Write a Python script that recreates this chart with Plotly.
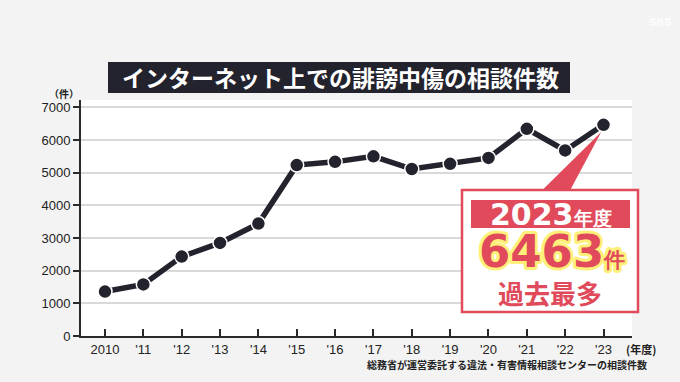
import plotly.graph_objects as go

years = list(range(2010, 2024))
values = [1360, 1580, 2430, 2850, 3440, 5230, 5330, 5500, 5110, 5270, 5450, 6340, 5680, 6463]
x_tick_labels = ["2010", "'11", "'12", "'13", "'14", "'15", "'16", "'17", "'18", "'19", "'20", "'21", "'22", "'23"]
y_ticks = [0, 1000, 2000, 3000, 4000, 5000, 6000, 7000]

title_text = "インターネット上での誹謗中傷の相談件数"
source_text = "総務省が運営委託する違法・有害情報相談センターの相談件数"
callout_year = "2023"
callout_value = "6463"

W, H = 680, 382
L, R, T, B = 81, 48, 100, 46
PW, PH = W - L - R, H - T - B

def px(x):
    return (x - L) / PW

def py(y):
    return (H - B - y) / PH

DARK = "#23232e"
RED = "#e04a5a"
BG = "#f3f3f3"
GLOW = "#fff07a"

fig = go.Figure()
fig.add_trace(go.Scatter(
    x=years, y=values, mode="lines+markers",
    line=dict(color=DARK, width=5.5),
    marker=dict(size=14, color=DARK, line=dict(color="white", width=1.5)),
    hoverinfo="skip", showlegend=False,
))

shapes = []
annotations = []

# title box
shapes.append(dict(type="rect", xref="paper", yref="paper",
                   x0=px(108), x1=px(570), y0=py(93), y1=py(62),
                   fillcolor=DARK, line=dict(width=0), layer="above"))
annotations.append(dict(xref="paper", yref="paper", x=px(340), y=py(77.5),
                        text=title_text, showarrow=False,
                        font=dict(family="Noto Sans CJK JP", size=23, color="white", weight="bold"),
                        xanchor="center", yanchor="middle"))

# unit label
annotations.append(dict(xref="paper", yref="paper", x=px(64), y=py(93),
                        text="（件）", showarrow=False,
                        font=dict(family="Noto Sans CJK JP", size=10, color="#222", weight="bold"),
                        xanchor="center", yanchor="middle"))
# fiscal year label
annotations.append(dict(xref="paper", yref="paper", x=px(641), y=py(349),
                        text="(年度)", showarrow=False,
                        font=dict(family="Noto Sans CJK JP", size=11, color="#222", weight="bold"),
                        xanchor="center", yanchor="middle"))
# source
annotations.append(dict(xref="paper", yref="paper", x=px(649), y=py(364),
                        text=source_text, showarrow=False,
                        font=dict(family="Noto Sans CJK JP", size=10, color="#222", weight="bold"),
                        xanchor="right", yanchor="middle"))

# logo
annotations.append(dict(xref="paper", yref="paper", x=px(660), y=py(22),
                        text="SBS", showarrow=False,
                        font=dict(family="Liberation Sans", size=11, color="white", weight="bold"),
                        xanchor="center", yanchor="middle", opacity=0.9))

# callout pointer (data coordinates toward the last point)
last_x, last_y = years[-1], values[-1]
shapes.append(dict(type="path", xref="x", yref="y",
                   path=f"M {last_x - 1.58},4480 L {last_x - 0.86},4480 L {last_x - 0.06},{last_y - 220} Z",
                   fillcolor=RED, line=dict(width=0), layer="above"))
# callout box
shapes.append(dict(type="rect", xref="paper", yref="paper",
                   x0=px(462), x1=px(638), y0=py(312), y1=py(190),
                   fillcolor="white", line=dict(color=RED, width=2.5), layer="above"))
shapes.append(dict(type="rect", xref="paper", yref="paper",
                   x0=px(471), x1=px(630), y0=py(228), y1=py(200),
                   fillcolor=RED, line=dict(width=0), layer="above"))
annotations.append(dict(xref="paper", yref="paper", x=px(551), y=py(214),
                        text=f"{callout_year}<span style='font-size:19px'>年度</span>", showarrow=False,
                        font=dict(family="DejaVu Sans", size=30, color="white", weight="bold"),
                        xanchor="center", yanchor="middle"))

val_text = f"{callout_value}<span style='font-size:21px'>件</span>"
annotations.append(dict(xref="paper", yref="paper", x=px(552), y=py(251),
                        text=val_text, showarrow=False,
                        font=dict(family="DejaVu Sans", size=45, color=RED, weight="bold"),
                        xanchor="center", yanchor="middle"))
annotations.append(dict(xref="paper", yref="paper", x=px(550), y=py(292),
                        text="過去最多", showarrow=False,
                        font=dict(family="Noto Sans CJK JP", size=26, color=RED, weight="bold"),
                        xanchor="center", yanchor="middle"))

fig.update_layout(
    width=W, height=H,
    margin=dict(l=L, r=R, t=T, b=B),
    paper_bgcolor=BG, plot_bgcolor="white",
    shapes=shapes, annotations=annotations,
    xaxis=dict(range=[2009.374, 2023.743], tickmode="array", tickvals=years, ticktext=x_tick_labels,
               showgrid=False, zeroline=False, showline=True, linecolor="#2a2a2a", linewidth=2,
               ticks="inside", ticklen=7, tickwidth=1.5, tickcolor="#2a2a2a",
               tickfont=dict(family="Liberation Sans", size=13, color="#222")),
    yaxis=dict(range=[0, 7223], tickmode="array", tickvals=y_ticks,
               showgrid=True, gridcolor="#d9d9d9", gridwidth=1.5, zeroline=False,
               showline=True, linecolor="#2a2a2a", linewidth=2,
               ticks="outside", ticklen=6, tickwidth=1.5, tickcolor="#2a2a2a",
               tickfont=dict(family="Liberation Sans", size=13, color="#222")),
)

post = (
    "document.body.style.margin='0';document.body.style.background='%s';"
    "document.querySelectorAll('.annotation-text').forEach(function(el){"
    "if(el.textContent.indexOf('%s')===0){"
    "el.style.stroke='%s';el.style.strokeWidth='6px';el.style.strokeLinejoin='round';"
    "el.style.paintOrder='stroke';}});"
) % (BG, callout_value, GLOW)

fig.write_html("out.html", config={"displayModeBar": False}, post_script=post)
